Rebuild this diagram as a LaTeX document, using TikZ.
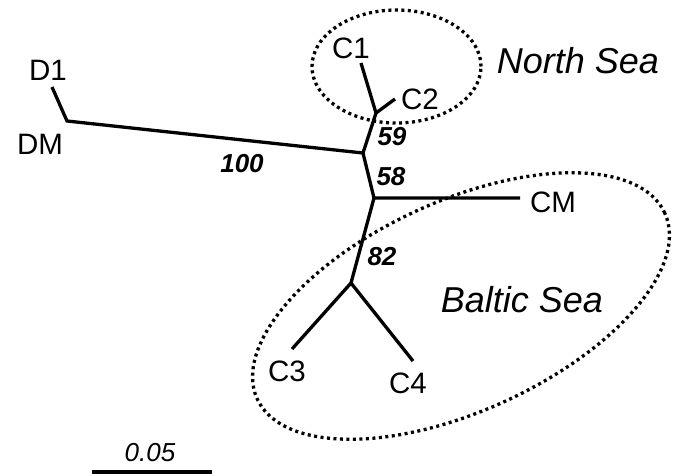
\documentclass[tikz,border=0pt]{standalone}
\usepackage{fontspec}
\setmainfont{Liberation Sans}

\begin{document}
\begin{tikzpicture}[x=1pt, y=-1pt, line width=3.3pt,
  tip/.style = {inner sep=0pt, font=\fontsize{29.5}{31}\selectfont},
  boot/.style = {inner sep=0pt, font=\fontsize{26}{28}\selectfont\bfseries\itshape},
  sea/.style = {inner sep=0pt, font=\fontsize{36}{38}\selectfont\itshape},
  group/.style = {line width=3.3pt, dash pattern=on 3pt off 3.5pt}]
  \useasboundingbox (0,0) rectangle (673,475);
  % branch points
  \coordinate (d1) at (52,87);
  \coordinate (dm) at (67,121);
  \coordinate (n1) at (363,153);
  \coordinate (n2) at (376,113);
  \coordinate (c1) at (361,63);
  \coordinate (c2) at (395,99);
  \coordinate (n3) at (374,198);
  \coordinate (cm) at (520,198);
  \coordinate (n4) at (351,283);
  \coordinate (c3) at (292,349);
  \coordinate (c4) at (413,361);
  \draw (d1) to (dm) to (n1);
  \draw (n1) to (n2) to (c1);
  \draw (n2) to (c2);
  \draw (n1) to (n3) to (cm);
  \draw (n3) to (n4) to (c3);
  \draw (n4) to (c4);
  % sea groups
  \draw[group] (396.5,66.5) ellipse [x radius=84.5pt, y radius=56.5pt];
  \draw[group, rotate around={24.5:(461,306)}] (461,306) ellipse [x radius=224pt, y radius=105pt];
  % labels
  \node[tip] (ld1) at (48,70) {D1};
  \node[tip] (ldm) at (40,144) {DM};
  \node[tip] (lc1) at (351,48) {C1};
  \node[tip] (lc2) at (420,99) {C2};
  \node[tip] (lcm) at (553,202) {CM};
  \node[tip] (lc3) at (287,371) {C3};
  \node[tip] (lc4) at (408,383) {C4};
  \node[boot] (b100) at (242,164) {100};
  \node[boot] (b59) at (392,137) {59};
  \node[boot] (b58) at (391,177) {58};
  \node[boot] (b82) at (382,257) {82};
  \node[sea] (north) at (578,61) {North Sea};
  \node[sea] (baltic) at (522,300) {Baltic Sea};
  % scale bar
  \coordinate (sbl) at (92,472);
  \coordinate (sbr) at (212,472);
  \draw (sbl) to (sbr);
  \node[inner sep=0pt, font=\fontsize{26}{28}\selectfont\itshape] (scale) at (150,453) {0.05};
\end{tikzpicture}
\end{document}
